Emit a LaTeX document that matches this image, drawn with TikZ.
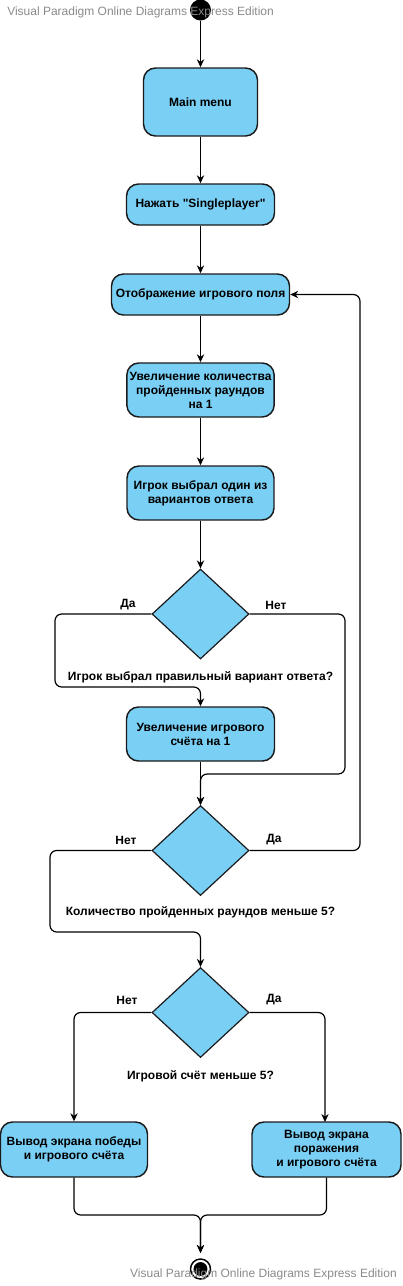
\documentclass[tikz,border=0pt]{standalone}
\usepackage{fontspec}
\setmainfont{Liberation Sans}[Ligatures=TeXOff]
\usetikzlibrary{shapes.geometric,arrows.meta}

\definecolor{actblue}{HTML}{7ACFF5}
\definecolor{edgegray}{HTML}{1A1A1A}
\definecolor{markgray}{HTML}{8A8A8A}

\tikzset{
    activity/.style={draw=edgegray, fill=actblue, line width=1.1pt, rounded corners=9pt,
        align=center, inner sep=2pt, font=\bfseries\fontsize{9}{10.5}\selectfont},
    decision/.style={draw=edgegray, fill=actblue, line width=0.9pt, diamond, inner sep=0pt,
        minimum width=72.75pt, minimum height=67.5pt},
    flow/.style={draw=black, line width=0.9pt, rounded corners=5pt,
        -{Stealth[length=6pt,width=5.5pt]}},
    guard/.style={font=\bfseries\fontsize{9}{10.5}\selectfont, inner sep=0pt},
    watermark/.style={text=markgray, font=\fontsize{9}{10.5}\selectfont, inner sep=0pt}
}

\begin{document}
\begin{tikzpicture}[x=0.75pt, y=-0.75pt]
    \useasboundingbox (0,0) rectangle (403,1286);

    \node[circle, fill=black, minimum size=15.75pt, inner sep=0pt] (start) at (200.5,10) {};

    \node[activity, minimum width=85.5pt, minimum height=51pt] (mainmenu) at (200.5,102) {Main menu};
    \node[activity, minimum width=111pt, minimum height=30.75pt] (single) at (200.5,204.5) {Нажать "Singleplayer"};
    \node[activity, minimum width=133.5pt, minimum height=30.75pt] (field) at (200.5,294.5) {Отображение игрового поля};
    \node[activity, minimum width=110.25pt, minimum height=40.5pt] (rounds) at (200.5,390) {Увеличение количества\\пройденных раундов\\на 1};
    \node[activity, minimum width=110.25pt, minimum height=40.5pt] (answer) at (200.5,493) {Игрок выбрал один из\\вариантов ответа};
    \node[decision] (correct) at (200.5,614) {};
    \node[activity, minimum width=111pt, minimum height=40.5pt] (score) at (200.5,734) {Увеличение игрового\\счёта на 1};
    \node[decision] (roundsleft) at (200.5,850.5) {};
    \node[decision] (scorecheck) at (200.5,1012.5) {};
    \node[activity, minimum width=110.25pt, minimum height=41.25pt] (win) at (74,1149.5) {Вывод экрана победы\\и игрового счёта};
    \node[activity, minimum width=111.75pt, minimum height=41.25pt] (lose) at (326.5,1149.5) {Вывод экрана\\поражения\\и игрового счёта};

    \node[circle, draw=black, line width=1.1pt, fill=white, minimum size=15pt, inner sep=0pt] (finish) at (200.5,1269) {};
    \fill[black] (finish.center) circle (5.2pt);

    \node[guard] (correctyes) at (128,605) {Да};
    \node[guard] (correctno) at (276,605) {Нет};
    \node[guard] (correctq) at (200.5,677) {Игрок выбрал правильный вариант ответа?};
    \node[guard] (roundsno) at (126,840) {Нет};
    \node[guard] (roundsyes) at (274,840) {Да};
    \node[guard] (roundsq) at (200.5,912) {Количество пройденных раундов меньше 5?};
    \node[guard] (scoreno) at (127,1000) {Нет};
    \node[guard] (scoreyes) at (274,1000) {Да};
    \node[guard] (scoreq) at (200.5,1076) {Игровой счёт меньше 5?};

    \draw[flow] (start) -- (mainmenu);
    \draw[flow] (mainmenu) -- (single);
    \draw[flow] (single) -- (field);
    \draw[flow] (field) -- (rounds);
    \draw[flow] (rounds) -- (answer);
    \draw[flow] (answer) -- (correct);
    \draw[flow] (correct.west) -| (55,687) -| (score.north);
    \draw[flow] (correct.east) -| (345,774) -| (roundsleft.north);
    \draw[flow] (score) -- (roundsleft);
    \draw[flow] (roundsleft.east) -| (360,294.5) -- (field.east);
    \draw[flow] (roundsleft.west) -| (50,932) -| (scorecheck.north);
    \draw[flow] (scorecheck.west) -| (win.north);
    \draw[flow] (scorecheck.east) -| (325,1122);
    \draw[flow, shorten >=4pt] (win.south) |- (200.5,1215) -- (finish);
    \draw[flow, shorten >=4pt] (lose.south) |- (200.5,1215) -- (finish);

    \node[watermark, anchor=west] (marktop) at (7,12) {Visual Paradigm Online Diagrams Express Edition};
    \node[watermark, anchor=east] (markbottom) at (397,1274) {Visual Paradigm Online Diagrams Express Edition};
\end{tikzpicture}
\end{document}
